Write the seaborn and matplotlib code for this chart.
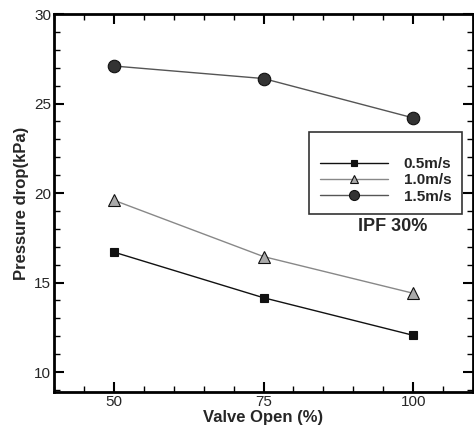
import pandas as pd
import matplotlib
matplotlib.use('Agg')
import matplotlib.pyplot as plt
import seaborn as sns
from matplotlib.ticker import MultipleLocator, FixedLocator

# Daten
ventil_offen = [50, 75, 100]
dp_05 = [16.7, 14.15, 12.05]
dp_10 = [19.6, 16.45, 14.4]
dp_15 = [27.1, 26.4, 24.2]
serien = ['0.5m/s', '1.0m/s', '1.5m/s']

df = pd.DataFrame({
    'Valve': ventil_offen * 3,
    'dp': dp_05 + dp_10 + dp_15,
    'Serie': [serien[0]] * 3 + [serien[1]] * 3 + [serien[2]] * 3,
})

sns.set_style('ticks')
plt.rcParams['font.family'] = ['Liberation Sans', 'DejaVu Sans']

fig = plt.figure(figsize=(4.74, 4.28), dpi=100)
ax = fig.add_axes([0.114, 0.084, 0.884, 0.883])

linienfarben = {serien[0]: '#111111', serien[1]: '#888888', serien[2]: '#555555'}
marker = {serien[0]: 's', serien[1]: '^', serien[2]: 'o'}
fuellung = {serien[0]: '#111111', serien[1]: '#aaaaaa', serien[2]: '#333333'}
groesse = {serien[0]: 6, serien[1]: 8, serien[2]: 9}

for s in serien:
    sns.lineplot(data=df[df['Serie'] == s], x='Valve', y='dp', ax=ax,
                 color=linienfarben[s], marker=marker[s], markersize=groesse[s],
                 markerfacecolor=fuellung[s], markeredgecolor='#111111',
                 markeredgewidth=0.8, linewidth=1.0, label=s)

ax.set_xlim(40, 110)
ax.set_ylim(8.88, 30)
ax.xaxis.set_major_locator(FixedLocator([50, 75, 100]))
ax.xaxis.set_minor_locator(MultipleLocator(5))
ax.yaxis.set_major_locator(MultipleLocator(5))
ax.yaxis.set_minor_locator(MultipleLocator(1))
ax.tick_params(which='both', direction='in', top=True, right=True,
               labelsize=11, color='black', pad=2)
ax.tick_params(which='major', length=7, width=1.5)
ax.tick_params(which='minor', length=4, width=1.0)
for sp in ax.spines.values():
    sp.set_linewidth(2)
    sp.set_color('black')

ax.set_xlabel('Valve Open (%)', fontsize=12, fontweight='bold', labelpad=1)
ax.set_ylabel('Pressure drop(kPa)', fontsize=12, fontweight='bold', labelpad=4)

# Legende mit Rahmen, Platz oben durch leeren Titel
leg = ax.legend(loc='upper left', bbox_to_anchor=(309 / 474, 1 - 132 / 428),
                bbox_transform=fig.transFigure, borderaxespad=0, frameon=True,
                fancybox=False, edgecolor='black', handlelength=4.5,
                handletextpad=1.0, borderpad=0.7, labelspacing=0.15,
                markerscale=0.8, title=' ', title_fontsize=9,
                prop={'weight': 'bold', 'size': 11})
leg.get_frame().set_linewidth(1.2)
leg.set_zorder(5)

ax.text(0.809, 0.439, 'IPF 30%', transform=ax.transAxes, ha='center', va='center',
        fontsize=13, fontweight='bold')

fig.savefig('out.png', dpi=100)
